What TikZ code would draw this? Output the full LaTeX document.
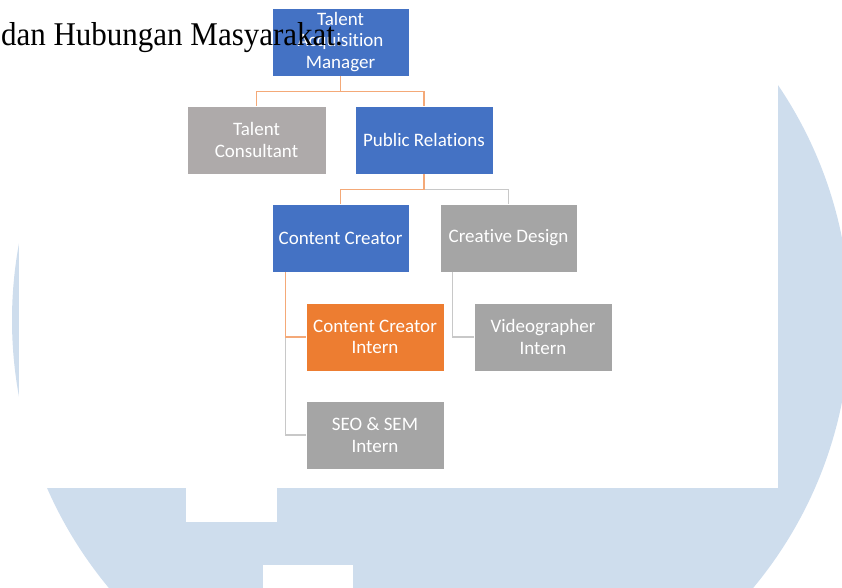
\documentclass[tikz,border=0pt]{standalone}
\usepackage{fontspec}
\setmainfont{Liberation Serif}
\newfontfamily\chartfont[Ligatures=NoCommon]{Carlito}

\definecolor{wmblue}{RGB}{206,221,237}
\definecolor{boxblue}{RGB}{68,114,196}
\definecolor{boxgrey}{RGB}{165,165,165}
\definecolor{boxtaupe}{RGB}{174,170,170}
\definecolor{boxorange}{RGB}{237,125,49}
\definecolor{linkorange}{RGB}{244,169,120}
\definecolor{linkgrey}{RGB}{200,200,200}

\begin{document}
\begin{tikzpicture}[x=1pt,y=-1pt,
	unit/.style={draw=white,line width=0.6pt,minimum width=137pt,minimum height=68pt,inner sep=0pt,align=center,text=white,font=\chartfont\fontsize{19}{21.5}\selectfont},
	bluebox/.style={unit,fill=boxblue},
	greybox/.style={unit,fill=boxgrey},
	taupebox/.style={unit,fill=boxtaupe},
	orangebox/.style={unit,fill=boxorange},
	orangelink/.style={draw=linkorange,line width=1.5pt},
	greylink/.style={draw=linkgrey,line width=1.5pt}]

	\clip (0,0) rectangle (842,587);
	% watermark behind the page
	\fill[wmblue] (431,320) circle[radius=419];
	\fill[white] (19,-5) rectangle (778,488);
	\fill[white] (186,487) rectangle (277,522);
	\fill[white] (263,565) rectangle (353,600);

	\node[bluebox] (tam) at (340.5,42) {Talent\\Acquisition\\Manager};
	\node[taupebox,minimum width=139pt] (tc) at (256.5,140) {Talent\\Consultant};
	\node[bluebox,minimum width=138pt] (pr) at (424,140) {Public Relations};
	\node[bluebox] (cc) at (340.5,238) {Content Creator};
	\node[greybox] (cd) at (508.5,238) {Creative Design};
	\node[orangebox,minimum width=138pt] (cci) at (375,337) {Content Creator\\Intern};
	\node[greybox,minimum width=138pt] (vi) at (543,337) {Videographer\\Intern};
	\node[greybox,minimum width=138pt] (seo) at (375,435) {SEO \& SEM\\Intern};

	\draw[orangelink] (tam.south) -- ++(0,15) -| (tc.north);
	\draw[orangelink] (tam.south) -- ++(0,15) -| (pr.north);
	\draw[greylink] (pr.south) -- ++(0,15) -| (cd.north);
	\draw[orangelink] (pr.south) -- ++(0,15) -| (cc.north);
	\draw[greylink] ([xshift=14pt]cc.south west) |- (seo.west);
	\draw[orangelink] ([xshift=14pt]cc.south west) |- (cci.west);
	\draw[greylink] ([xshift=13pt]cd.south west) |- (vi.west);

	\node[anchor=base east,inner sep=0pt,yscale=1.07,font=\fontsize{31}{36}\selectfont] (title) at (343,45) {dan Hubungan Masyarakat.};

\end{tikzpicture}
\end{document}
